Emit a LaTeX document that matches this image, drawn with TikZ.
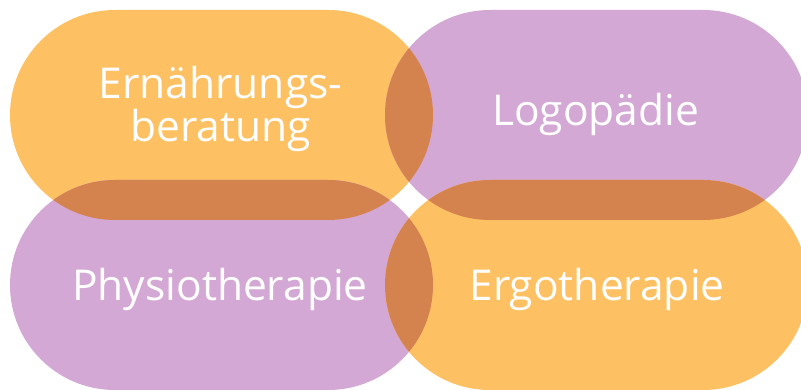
\documentclass[tikz,border=0pt]{standalone}
\usepackage{fontspec}
\setmainfont{Open Sans}
\definecolor{orng}{HTML}{FDC163}
\definecolor{purp}{HTML}{D4A8D4}
\definecolor{ovl}{HTML}{D4834F}
\tikzset{
  lbl/.style={text=white, font=\fontsize{42.5}{39}\selectfont, inner sep=0pt, anchor=base, align=center},
}
\begin{document}
\begin{tikzpicture}[x=1pt,y=-1pt]
\useasboundingbox (0,0) rectangle (801,390);
\clip (0,0) rectangle (801,390);
\def\shTL{(10,10) rectangle (433,220)}
\def\shTR{(385,10) rectangle (808,220)}
\def\shBL{(10,180) rectangle (433,390)}
\def\shBR{(385,180) rectangle (808,390)}
\fill[orng, rounded corners=104.9pt] \shTL;
\fill[purp, rounded corners=104.9pt] \shTR;
\fill[purp, rounded corners=104.9pt] \shBL;
\fill[orng, rounded corners=104.9pt] \shBR;
\begin{scope}
  \clip[rounded corners=104.9pt] \shTL;
  \fill[ovl, rounded corners=104.9pt] \shTR;
  \fill[ovl, rounded corners=104.9pt] \shBL;
\end{scope}
\begin{scope}
  \clip[rounded corners=104.9pt] \shBR;
  \fill[ovl, rounded corners=104.9pt] \shTR;
  \fill[ovl, rounded corners=104.9pt] \shBL;
\end{scope}
\node[lbl] (ern) at (220.5,142) {Ernährungs-\\beratung};
\node[lbl] (logo) at (595.5,126) {Logopädie};
\node[lbl] (physio) at (220,301) {Physiotherapie};
\node[lbl] (ergo) at (597,301) {Ergotherapie};
\end{tikzpicture}
\end{document}
